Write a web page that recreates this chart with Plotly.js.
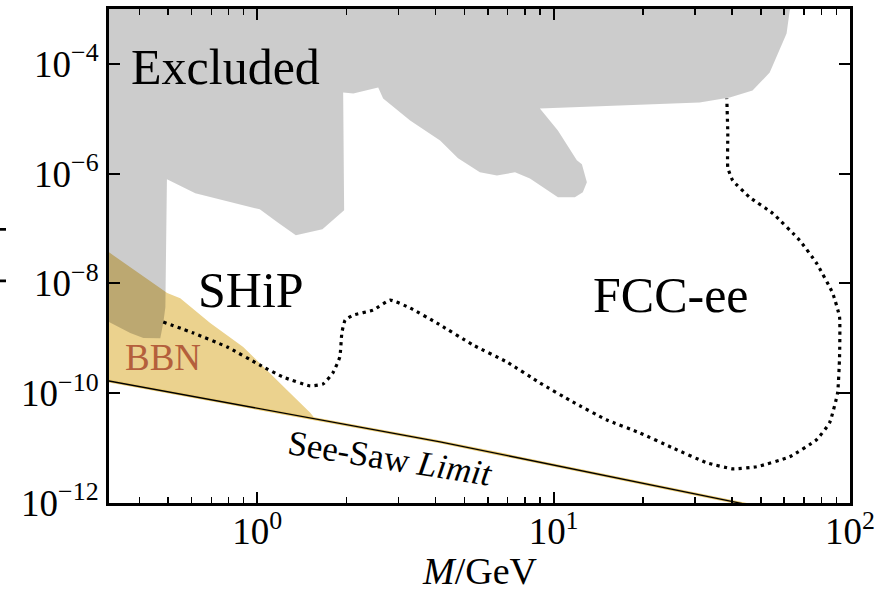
<!DOCTYPE html>
<html>
<head>
<meta charset="utf-8">
<script src="https://cdn.plot.ly/plotly-3.0.1.min.js"></script>
<style>
  html, body { margin: 0; padding: 0; background: #ffffff; }
  #chart { width: 879px; height: 593px; }
</style>
</head>
<body>
<div id="chart"></div>
<script>
// ---- Data (M in GeV, U^2 dimensionless) ----
// Excluded region (outline, clockwise)
const excludedM = [0.3, 0.3, 0.373, 0.413, 0.471, 0.482, 0.490, 0.496, 0.618, 1.02, 1.17, 1.35, 1.66, 1.965, 1.95, 2.11, 2.56, 2.66, 3.28, 4.14, 4.76, 5.64, 6.44, 7.41, 8.32, 9.57, 10.34, 11.8, 12.55, 12.95, 12.46, 11.98, 10.34, 8.99, 31.1, 39.3, 46.9, 53.6, 57.9, 61.1, 62.6, 63.5, 0.3];
const excludedU2 = [1.2e-3, 2.3e-9, 1.25e-9, 1.01e-9, 1.0e-9, 1.9e-9, 3.7e-9, 7.9e-7, 4.4e-7, 2.24e-7, 1.30e-7, 7.55e-8, 9.7e-8, 2.15e-7, 3.0e-5, 2.9e-5, 3.7e-5, 2.34e-5, 9.3e-6, 4.03e-6, 1.9e-6, 1.06e-6, 9.3e-7, 1.06e-6, 8.2e-7, 5.0e-7, 3.7e-7, 3.7e-7, 4.57e-7, 6.95e-7, 1.48e-6, 1.75e-6, 6.1e-6, 1.54e-5, 1.98e-5, 2.44e-5, 3.27e-5, 6.95e-5, 1.9e-4, 3.56e-4, 9.3e-4, 1.2e-3, 1.2e-3];

// BBN region
const bbnM = [0.316, 0.497, 0.55, 0.694, 0.897, 1.08, 1.26, 1.51, 1.57, 0.316];
const bbnU2 = [3.7e-8, 6.7e-9, 5.4e-9, 1.9e-9, 6.95e-10, 2.65e-10, 1.15e-10, 4.4e-11, 3.4e-11, 1.67e-10];

// See-saw limit
const seesawM = [0.316, 4.14, 40.2, 50];
const seesawU2 = [1.67e-10, 1.30e-11, 1.06e-12, 8.3e-13];

// FCC-ee sensitivity (dotted)
const fccM = [0.482, 0.609, 0.792, 1.02, 1.22, 1.51, 1.67, 1.80, 1.90, 1.93, 1.98, 2.11, 2.46, 2.81, 3.28, 4.04, 5.35, 6.96, 8.99, 11.6, 15.1, 19.5, 25.2, 32.9, 40.2, 48.4, 62.6, 77.1, 85.3, 90.8, 92.2, 92.2, 87.4, 77.1, 67.6, 54.8, 45.9, 40.2, 38.7, 38.7, 38.4];
const fccU2 = [1.98e-9, 1.25e-9, 6.95e-10, 3.27e-10, 1.98e-10, 1.36e-10, 1.48e-10, 2.34e-10, 4.57e-10, 1.25e-9, 2.15e-9, 2.65e-9, 3.27e-9, 4.97e-9, 3.56e-9, 1.9e-9, 7.55e-10, 3.7e-10, 1.54e-10, 6.95e-11, 3.27e-11, 1.9e-11, 1.01e-11, 5.4e-12, 4.2e-12, 4.57e-12, 6.95e-12, 1.42e-11, 2.88e-11, 1.01e-10, 4.57e-10, 2.44e-9, 6.67e-9, 2.34e-8, 6.12e-8, 1.9e-7, 3.7e-7, 7.55e-7, 1.3e-6, 5.4e-6, 2.34e-5];

// Region labels: [text, M, U2]
const labelText = ["Excluded", "SHiP", "FCC-ee"];
const labelM = [0.78, 0.955, 24.8];
const labelU2 = [8.9e-5, 7.55e-9, 6.1e-9];

const xTickVals = [1, 10, 100];
const xTickText = ["10<sup>0</sup>", "10<sup>1</sup>", "10<sup>2</sup>"];
const yTickVals = [1e-12, 1e-10, 1e-8, 1e-6, 1e-4];
const yTickText = ["10<sup>\u221212</sup>", "10<sup>\u221210</sup>", "10<sup>\u22128</sup>", "10<sup>\u22126</sup>", "10<sup>\u22124</sup>"];

const SERIF = '"Liberation Serif", "DejaVu Serif", serif';

const traces = [
  {
    x: bbnM, y: bbnU2, type: 'scatter', mode: 'lines', fill: 'toself',
    fillcolor: '#ebd28e', line: {width: 0, color: '#ebd28e'}, hoverinfo: 'skip', showlegend: false
  },
  {
    x: excludedM, y: excludedU2, type: 'scatter', mode: 'lines', fill: 'toself',
    fillcolor: 'rgba(0,0,0,0.2)', line: {width: 0, color: 'rgba(0,0,0,0)'}, hoverinfo: 'skip', showlegend: false
  },
  {
    x: seesawM, y: seesawU2, type: 'scatter', mode: 'lines',
    line: {width: 3, color: '#e8c66a'}, hoverinfo: 'skip', showlegend: false
  },
  {
    x: seesawM, y: seesawU2, type: 'scatter', mode: 'lines',
    line: {width: 1.3, color: '#000000'}, hoverinfo: 'skip', showlegend: false
  },
  {
    x: fccM, y: fccU2, type: 'scatter', mode: 'lines',
    line: {width: 3.2, color: '#000000', dash: '3.2px,4.3px', shape: 'spline', smoothing: 0.4},
    hoverinfo: 'skip', showlegend: false
  }
];

const annotations = labelText.map((t, i) => ({
  x: Math.log10(labelM[i]), y: Math.log10(labelU2[i]), xref: 'x', yref: 'y',
  text: t, showarrow: false, xanchor: 'center', yanchor: 'middle',
  font: {family: SERIF, size: 50, color: '#000000'}
}));
annotations.push({
  x: Math.log10(0.48), y: Math.log10(4.4e-10), xref: 'x', yref: 'y',
  text: 'BBN', showarrow: false, xanchor: 'center', yanchor: 'middle',
  font: {family: SERIF, size: 37, color: '#b45f3c'}
});
annotations.push({
  x: Math.log10(2.8), y: Math.log10(6.6e-12), xref: 'x', yref: 'y',
  text: 'See-Saw <i>Limit</i>', showarrow: false, xanchor: 'center', yanchor: 'middle',
  textangle: 9,
  font: {family: SERIF, size: 35, color: '#000000'}
});
// y-axis title, mostly outside the picture in the reference
annotations.push({
  x: -0.1363, y: 0.52, xref: 'paper', yref: 'paper',
  text: '|<i>U</i>|<sup>2</sup>', showarrow: false, xanchor: 'right', yanchor: 'middle',
  textangle: -90,
  font: {family: SERIF, size: 56, color: '#000000'}
});
// x-axis title
annotations.push({
  x: 0.5, y: -0.137, xref: 'paper', yref: 'paper',
  text: '<i>M</i>/GeV', showarrow: false, xanchor: 'center', yanchor: 'middle',
  font: {family: SERIF, size: 38, color: '#000000'}
});

const layout = {
  width: 879, height: 593,
  margin: {l: 109, r: 29, t: 9, b: 90, pad: 0},
  paper_bgcolor: '#ffffff', plot_bgcolor: '#ffffff',
  font: {family: SERIF, color: '#000000', size: 36},
  showlegend: false,
  xaxis: {
    type: 'log', range: [-0.5, 2], automargin: false,
    tickmode: 'array', tickvals: xTickVals, ticktext: xTickText,
    ticks: 'inside', ticklen: 11, tickwidth: 2, tickcolor: '#000',
    ticklabelstandoff: -6,
    minor: {ticks: 'inside', ticklen: 6, tickwidth: 1.5, tickcolor: '#000', dtick: 'D1', showgrid: false},
    showline: true, linewidth: 3, linecolor: '#000', mirror: 'ticks',
    showgrid: false, zeroline: false,
    tickfont: {family: SERIF, size: 37, color: '#000'}
  },
  yaxis: {
    type: 'log', range: [-12, -3], automargin: false,
    tickmode: 'array', tickvals: yTickVals, ticktext: yTickText,
    ticks: 'inside', ticklen: 11, tickwidth: 2, tickcolor: '#000',
    showline: true, linewidth: 3, linecolor: '#000', mirror: 'ticks',
    showgrid: false, zeroline: false,
    tickfont: {family: SERIF, size: 37, color: '#000'}
  },
  annotations: annotations
};

Plotly.newPlot('chart', traces, layout, {staticPlot: true, displayModeBar: false});
</script>
</body>
</html>
